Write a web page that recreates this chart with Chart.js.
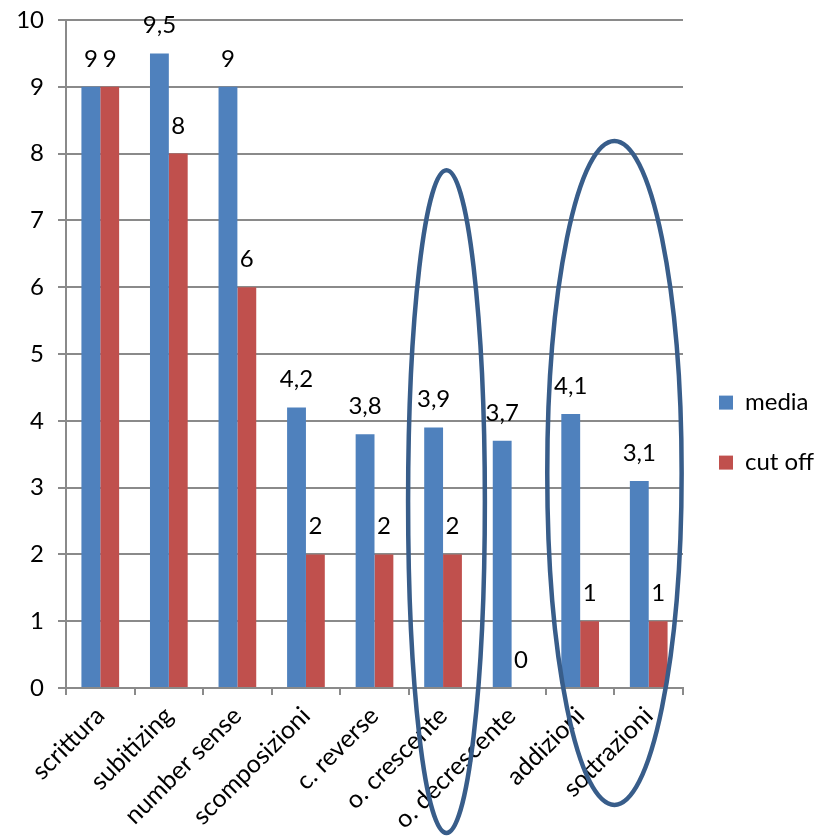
<!DOCTYPE html>
<html>
<head>
<meta charset="utf-8">
<script src="https://cdn.jsdelivr.net/npm/chart.js@4.4.1/dist/chart.umd.min.js"></script>
<style>
  html, body { margin: 0; padding: 0; background: #fff; }
  #wrap { width: 818px; height: 836px; }
</style>
</head>
<body>
<div id="wrap"><canvas id="chart"></canvas></div>
<script>
// Chart data
const categories = ['scrittura', 'subitizing', 'number sense', 'scomposizioni', 'c. reverse',
  'o. crescente', 'o. decrescente', 'addizioni', 'sottrazioni'];
const media = [9, 9.5, 9, 4.2, 3.8, 3.9, 3.7, 4.1, 3.1];
const cutOff = [9, 8, 6, 2, 2, 2, 0, 1, 1];
const yTicks = [0, 1, 2, 3, 4, 5, 6, 7, 8, 9, 10];

const FONT = 'Lato';
const GRID = '#8a8a8a';

// Values printed above each bar, with comma as decimal mark
const valueLabels = {
  id: 'valueLabels',
  afterDatasetsDraw(chart) {
    const ctx = chart.ctx;
    ctx.save();
    ctx.font = `24px ${FONT}`;
    ctx.fillStyle = '#000';
    ctx.textAlign = 'center';
    ctx.textBaseline = 'alphabetic';
    chart.data.datasets.forEach((ds, i) => {
      chart.getDatasetMeta(i).data.forEach((bar, j) => {
        const txt = String(ds.data[j]).replace('.', ',');
        ctx.fillText(txt, bar.x, bar.y - 20);
      });
    });
    ctx.restore();
  }
};

// Hand-drawn highlight ellipses, placed in axis units
const highlights = {
  id: 'highlights',
  afterDraw(chart) {
    const x = chart.scales.x, y = chart.scales.y;
    const step = x.getPixelForValue(1) - x.getPixelForValue(0);
    const rings = [
      { at: 5.05, half: 0.56, top: 7.75, bottom: -2.17 },
      { at: 7.5, half: 0.98, top: 8.19, bottom: -1.75 }
    ];
    const ctx = chart.ctx;
    ctx.save();
    ctx.strokeStyle = '#385D8A';
    ctx.lineWidth = 4.5;
    rings.forEach(r => {
      const cx = x.getPixelForValue(0) + r.at * step;
      const t = y.getPixelForValue(r.top), b = y.getPixelForValue(r.bottom);
      ctx.beginPath();
      ctx.ellipse(cx, (t + b) / 2, r.half * step, (b - t) / 2, 0, 0, Math.PI * 2);
      ctx.stroke();
    });
    ctx.restore();
  }
};

new Chart(document.getElementById('chart'), {
  type: 'bar',
  data: {
    labels: categories,
    datasets: [
      { label: 'media', data: media, backgroundColor: '#4F81BD' },
      { label: 'cut off', data: cutOff, backgroundColor: '#C0504D' }
    ]
  },
  options: {
    responsive: true,
    maintainAspectRatio: false,
    animation: false,
    categoryPercentage: 0.55,
    barPercentage: 1,
    layout: { padding: { top: 20, right: 0 } },
    plugins: {
      legend: {
        position: 'right',
        maxWidth: 135,
        title: { display: true, text: '', font: { size: 1 }, padding: { top: 4, bottom: 4 } },
        labels: {
          boxWidth: 14, boxHeight: 14, padding: 36, color: '#000',
          font: { family: FONT, size: 24 }
        }
      },
      tooltip: { enabled: false }
    },
    scales: {
      x: {
        grid: { display: true, drawOnChartArea: false, color: GRID, lineWidth: 2, tickLength: 7, offset: true },
        border: { color: GRID, width: 2 },
        ticks: {
          color: '#000', minRotation: 45, maxRotation: 45, padding: 6,
          font: { family: FONT, size: 25 }
        },
        afterFit: s => { s.height = 148; }
      },
      y: {
        min: 0, max: 10,
        afterBuildTicks: s => { s.ticks = yTicks.map(v => ({ value: v })); },
        grid: { color: GRID, lineWidth: 2, tickLength: 8 },
        border: { color: GRID, width: 2 },
        ticks: { color: '#000', padding: 14, font: { family: FONT, size: 24 } },
        afterFit: s => { s.width = 66; s.paddingTop = 0; s.paddingBottom = 0; }
      }
    }
  },
  plugins: [valueLabels, highlights]
});
</script>
</body>
</html>
